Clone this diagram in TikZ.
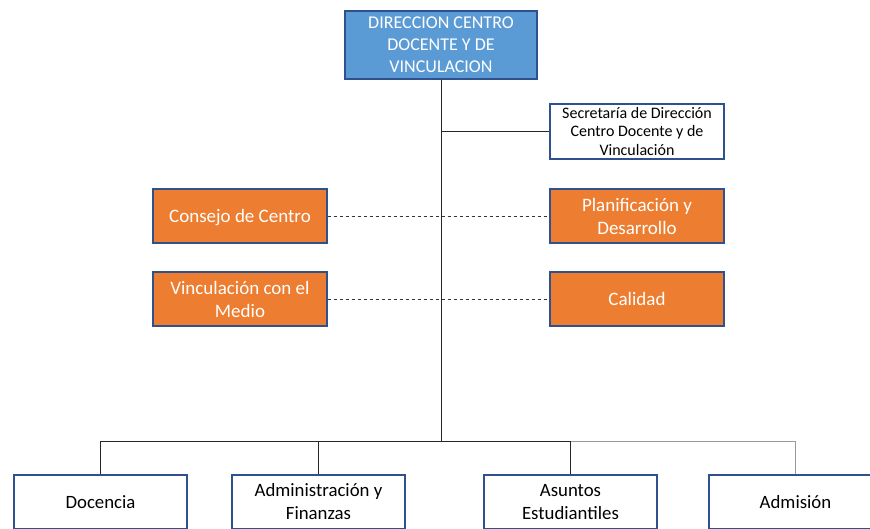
\documentclass[tikz,border=0pt]{standalone}
\usepackage{fontspec}
\setmainfont{Carlito}
\begin{document}
\begin{tikzpicture}[x=1pt,y=-1pt,
  headbox/.style={draw=navyline,fill=headblue,line width=1.4pt,minimum width=192pt,minimum height=68pt,
    text=white,align=center,font=\fontsize{18}{22}\selectfont,inner sep=0pt},
  staffbox/.style={draw=navyline,fill=white,line width=1.2pt,minimum width=174pt,minimum height=55pt,
    align=center,font=\fontsize{16}{18.5}\selectfont,inner sep=0pt},
  unitbox/.style={draw=navyline,fill=unitorange,line width=1.3pt,minimum width=174pt,minimum height=54pt,
    text=white,align=center,font=\fontsize{19}{23}\selectfont,inner sep=0pt},
  deptbox/.style={draw=navyline,fill=white,line width=1.3pt,minimum width=173pt,minimum height=54pt,
    align=center,font=\fontsize{18.8}{23}\selectfont,inner sep=0pt},
  link/.style={draw=black!85,line width=0.8pt},
  softlink/.style={draw=black!40,line width=0.8pt},
  dashlink/.style={draw=black!80,line width=0.8pt,dashed,dash pattern=on 3.5pt off 2.5pt}
]
\definecolor{navyline}{HTML}{2F528F}
\definecolor{headblue}{HTML}{5B9BD5}
\definecolor{unitorange}{HTML}{ED7D31}
\useasboundingbox (0,0) rectangle (870,529);
\clip (0,0) rectangle (870,529);

% top of the hierarchy
\node[headbox] (dir) at (441,45) {DIRECCION CENTRO\\DOCENTE Y DE\\VINCULACION};
\node[staffbox] (sec) at (637,131.5) {Secretaría de Dirección\\Centro Docente y de\\Vinculación};

% advisory units
\node[unitbox] (cons) at (240,216) {\raisebox{0pt}[\height][0pt]{Consejo de Centro}};
\node[unitbox] (plan) at (637,216) {Planificación y\\Desarrollo};
\node[unitbox] (vinc) at (240,299) {Vinculación con el\\Medio};
\node[unitbox] (cal) at (637,299) {Calidad};

% departments
\node[deptbox] (doc) at (100.5,502) {Docencia};
\node[deptbox] (adm) at (318.5,502) {Administración y\\Finanzas};
\node[deptbox] (asu) at (570.5,502) {Asuntos\\Estudiantiles};
\node[deptbox] (admi) at (795.5,502) {Admisión};

\coordinate (bus) at (441,441);

% connectors
\draw[link] (dir.south) -- (bus);
\draw[link] (sec.west) -- (sec.west -| dir.south);
\draw[dashlink] (cons.east) -- (plan.west);
\draw[dashlink] (vinc.east) -- (cal.west);
\draw[link] (doc.north) |- (bus);
\draw[link] (adm.north) |- (bus);
\draw[link] (asu.north) |- (bus);
\draw[softlink] (admi.north) |- (asu.north |- bus);
\end{tikzpicture}
\end{document}
